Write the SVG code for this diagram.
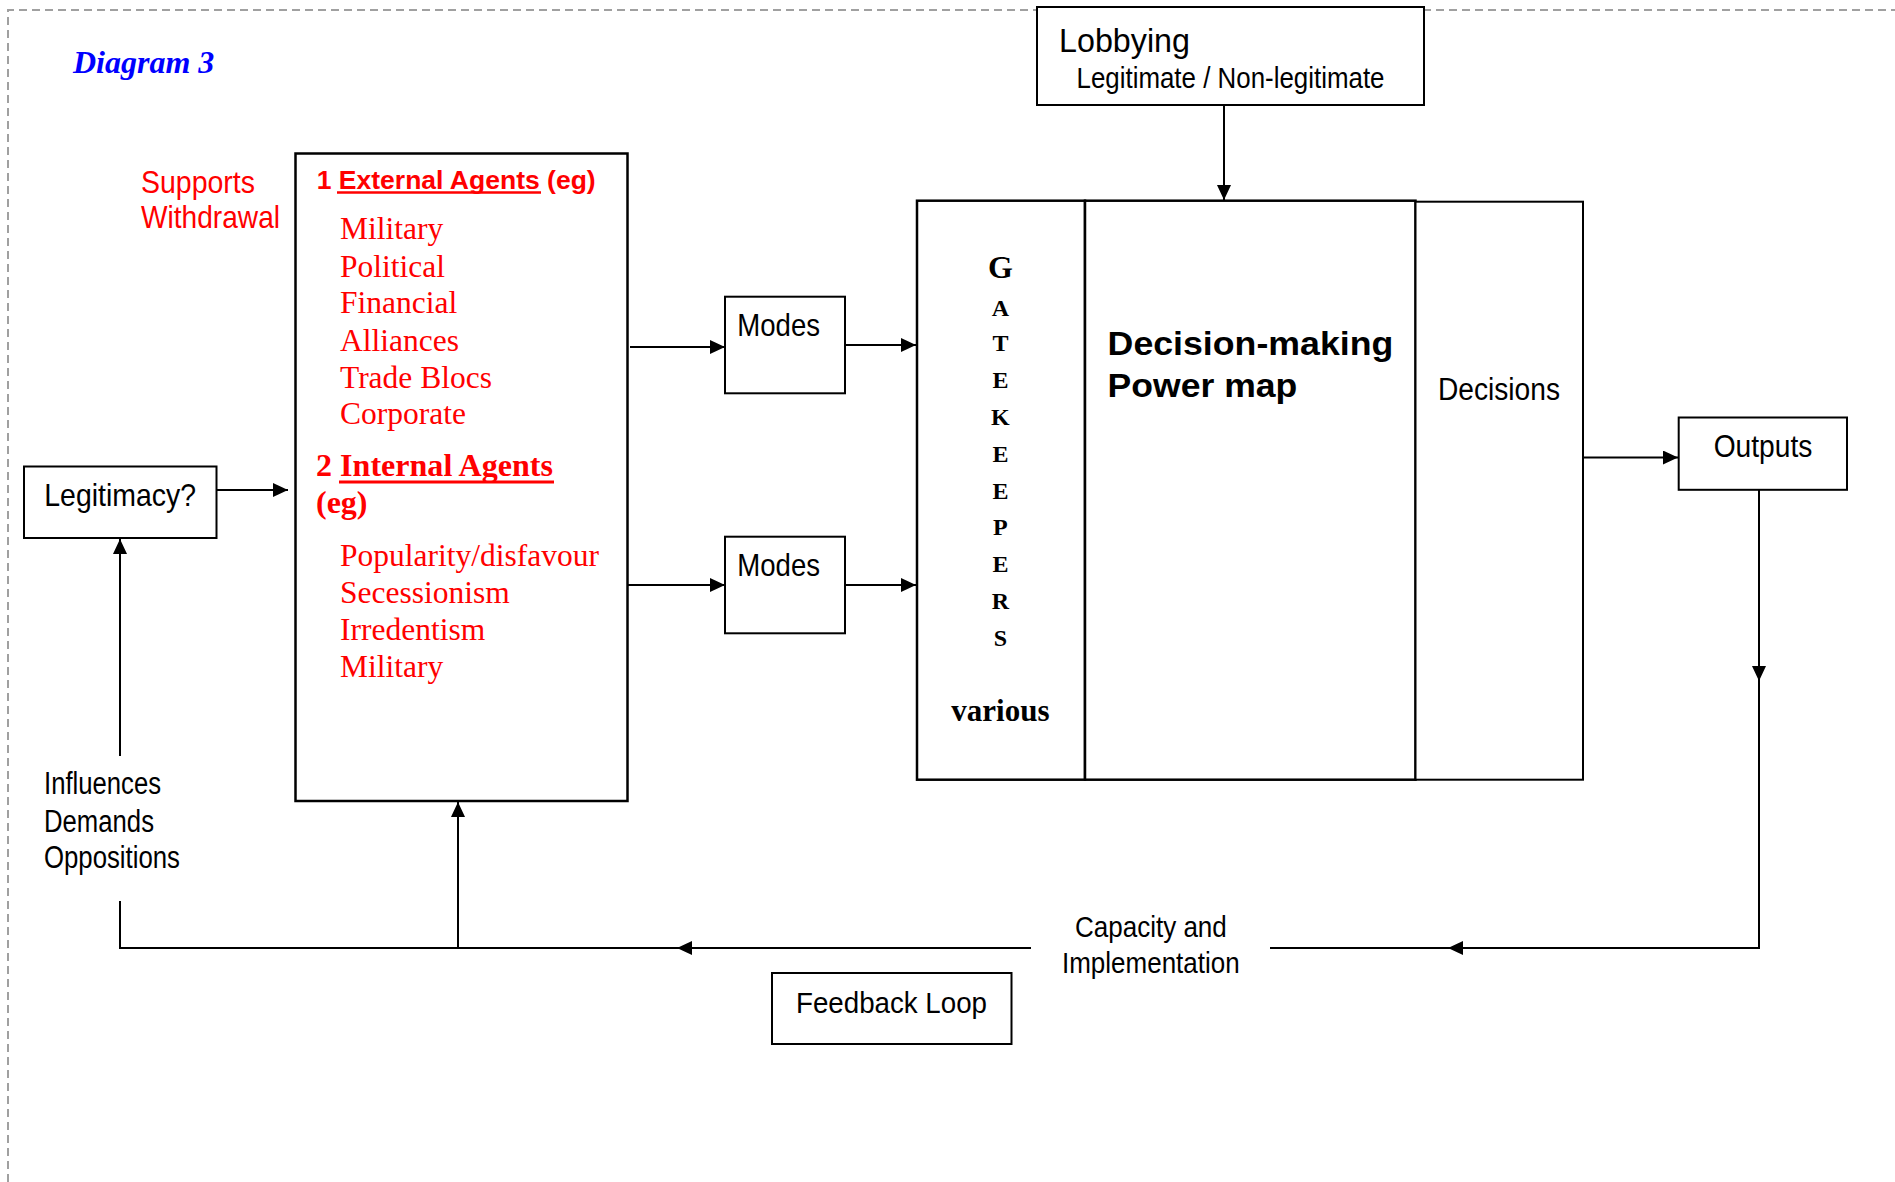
<svg xmlns="http://www.w3.org/2000/svg" width="1895" height="1182" viewBox="0 0 1895 1182">
<defs>
<style>
.box{fill:#fff;stroke:#000;stroke-width:2}
.thick{fill:#fff;stroke:#000;stroke-width:2.5}
.conn{fill:none;stroke:#000;stroke-width:2}
.sans{font-family:"Liberation Sans",Arial,sans-serif;fill:#000}
.serif{font-family:"Liberation Serif","Times New Roman",serif}
.red{fill:#FF0000}
.gk{font-family:"Liberation Serif","Times New Roman",serif;font-weight:bold;font-size:24px;text-anchor:middle;fill:#000}
.gkbig{font-size:32px}
.gkv{font-size:31px}
.item{font-family:"Liberation Serif","Times New Roman",serif;font-size:31.5px;fill:#FF0000}
</style>
<marker id="ah" markerUnits="userSpaceOnUse" markerWidth="15" markerHeight="14" refX="15" refY="7" orient="auto" viewBox="0 0 15 14">
<path d="M0,0 L15,7 L0,14 z" fill="#000"/>
</marker>
</defs>
<rect width="1895" height="1182" fill="#fff"/>
<g id="border">
<path d="M8,1182 L8,10 L1895,10" fill="none" stroke="#A0A0A0" stroke-width="2" stroke-dasharray="8 5"/>
</g>
<g id="title">
<text x="73" y="72.5" font-family="Liberation Serif,'Times New Roman',serif" font-weight="bold" font-style="italic" font-size="32" fill="#0000FF">Diagram 3</text>
</g>
<g id="supports">
<text class="sans red" x="141" y="193" font-size="32" textLength="114" lengthAdjust="spacingAndGlyphs">Supports</text>
<text class="sans red" x="141" y="228" font-size="32" textLength="139" lengthAdjust="spacingAndGlyphs">Withdrawal</text>
</g>
<g id="connectors">
<path class="conn" d="M1224,105 L1224,200" marker-end="url(#ah)"/>
<path class="conn" d="M630,347 L725,347" marker-end="url(#ah)"/>
<path class="conn" d="M845,345 L916,345" marker-end="url(#ah)"/>
<path class="conn" d="M627,585 L725,585" marker-end="url(#ah)"/>
<path class="conn" d="M845,585 L916,585" marker-end="url(#ah)"/>
<path class="conn" d="M217,490 L288,490" marker-end="url(#ah)"/>
<path class="conn" d="M120,756 L120,539" marker-end="url(#ah)"/>
<path class="conn" d="M1583,457.5 L1678,457.5" marker-end="url(#ah)"/>
<path class="conn" d="M1759,490 L1759,681" marker-end="url(#ah)"/>
<path class="conn" d="M1759,680 L1759,948 L1448,948" marker-end="url(#ah)"/>
<path class="conn" d="M1450,948 L1270,948"/>
<path class="conn" d="M1031,948 L677,948" marker-end="url(#ah)"/>
<path class="conn" d="M679,948 L120,948 L120,901"/>
<path class="conn" d="M458,948 L458,802" marker-end="url(#ah)"/>
</g>
<g id="lobbying">
<rect class="box" x="1037" y="7" width="387" height="98"/>
<text class="sans" x="1059" y="51.5" font-size="33" textLength="131" lengthAdjust="spacingAndGlyphs">Lobbying</text>
<text class="sans" x="1076.5" y="88.3" font-size="29" textLength="308" lengthAdjust="spacingAndGlyphs">Legitimate / Non-legitimate</text>
</g>
<g id="agents">
<rect class="thick" x="295.5" y="153.5" width="332" height="647.5"/>
<text class="sans red" x="316.7" y="189" font-size="26" font-weight="bold" textLength="279" lengthAdjust="spacingAndGlyphs">1 External Agents (eg)</text>
<line x1="337" y1="192.5" x2="541" y2="192.5" stroke="#FF0000" stroke-width="2.5"/>
<text class="item" x="340" y="239.3">Military</text>
<text class="item" x="340" y="276.5">Political</text>
<text class="item" x="340" y="313.3">Financial</text>
<text class="item" x="340" y="350.5">Alliances</text>
<text class="item" x="340" y="387.5">Trade Blocs</text>
<text class="item" x="340" y="423.5">Corporate</text>
<text class="serif red" x="316" y="476" font-size="32" font-weight="bold" textLength="237" lengthAdjust="spacingAndGlyphs">2 Internal Agents</text>
<line x1="339" y1="482" x2="554" y2="482" stroke="#FF0000" stroke-width="3"/>
<text class="serif red" x="316" y="513.3" font-size="32" font-weight="bold">(eg)</text>
<text class="item" x="340" y="566">Popularity/disfavour</text>
<text class="item" x="340" y="603.3">Secessionism</text>
<text class="item" x="340" y="640">Irredentism</text>
<text class="item" x="340" y="676.7">Military</text>
</g>
<g id="legitimacy">
<rect class="box" x="24" y="466.5" width="192.5" height="71.5"/>
<text class="sans" x="44.3" y="506" font-size="32" textLength="151.7" lengthAdjust="spacingAndGlyphs">Legitimacy?</text>
</g>
<g id="influences">
<text class="sans" x="44" y="794" font-size="31" textLength="117" lengthAdjust="spacingAndGlyphs">Influences</text>
<text class="sans" x="44" y="832" font-size="31" textLength="110" lengthAdjust="spacingAndGlyphs">Demands</text>
<text class="sans" x="44" y="867.5" font-size="31" textLength="136" lengthAdjust="spacingAndGlyphs">Oppositions</text>
</g>
<g id="modes1">
<rect class="box" x="725" y="296.7" width="120" height="96.6"/>
<text class="sans" x="737.3" y="336" font-size="32" textLength="82.7" lengthAdjust="spacingAndGlyphs">Modes</text>
</g>
<g id="modes2">
<rect class="box" x="725" y="536.7" width="120" height="96.6"/>
<text class="sans" x="737.3" y="576" font-size="32" textLength="82.7" lengthAdjust="spacingAndGlyphs">Modes</text>
</g>
<g id="gatekeepers">
<rect class="thick" x="917" y="200.7" width="168" height="579"/>
<text class="gk gkbig" x="1000.4" y="278">G</text>
<text class="gk" x="1000.4" y="315.7">A</text>
<text class="gk" x="1000.4" y="351">T</text>
<text class="gk" x="1000.4" y="388">E</text>
<text class="gk" x="1000.4" y="424.5">K</text>
<text class="gk" x="1000.4" y="462">E</text>
<text class="gk" x="1000.4" y="498.8">E</text>
<text class="gk" x="1000.4" y="534.8">P</text>
<text class="gk" x="1000.4" y="572">E</text>
<text class="gk" x="1000.4" y="608.8">R</text>
<text class="gk" x="1000.4" y="646">S</text>
<text class="gk gkv" x="1000.4" y="720.6">various</text>
</g>
<g id="powermap">
<rect class="thick" x="1085" y="200.7" width="330.5" height="579"/>
<text class="sans" x="1107.6" y="354.7" font-size="34" font-weight="bold" textLength="285.7" lengthAdjust="spacingAndGlyphs">Decision-making</text>
<text class="sans" x="1107.6" y="397" font-size="34" font-weight="bold" textLength="189.7" lengthAdjust="spacingAndGlyphs">Power map</text>
</g>
<g id="decisions">
<rect class="box" x="1415.5" y="201.7" width="167.5" height="578"/>
<text class="sans" x="1438" y="400" font-size="31" textLength="122" lengthAdjust="spacingAndGlyphs">Decisions</text>
</g>
<g id="outputs">
<rect class="box" x="1678.7" y="417.5" width="168.3" height="72.3"/>
<text class="sans" x="1713.7" y="456.5" font-size="31" textLength="98.7" lengthAdjust="spacingAndGlyphs">Outputs</text>
</g>
<g id="capacity">
<text class="sans" x="1075" y="936.7" font-size="30" textLength="151.8" lengthAdjust="spacingAndGlyphs">Capacity and</text>
<text class="sans" x="1062" y="973.3" font-size="30" textLength="177.7" lengthAdjust="spacingAndGlyphs">Implementation</text>
</g>
<g id="feedback">
<rect class="box" x="772" y="973" width="239.5" height="71"/>
<text class="sans" x="796" y="1012.7" font-size="30" textLength="191" lengthAdjust="spacingAndGlyphs">Feedback Loop</text>
</g>
</svg>
